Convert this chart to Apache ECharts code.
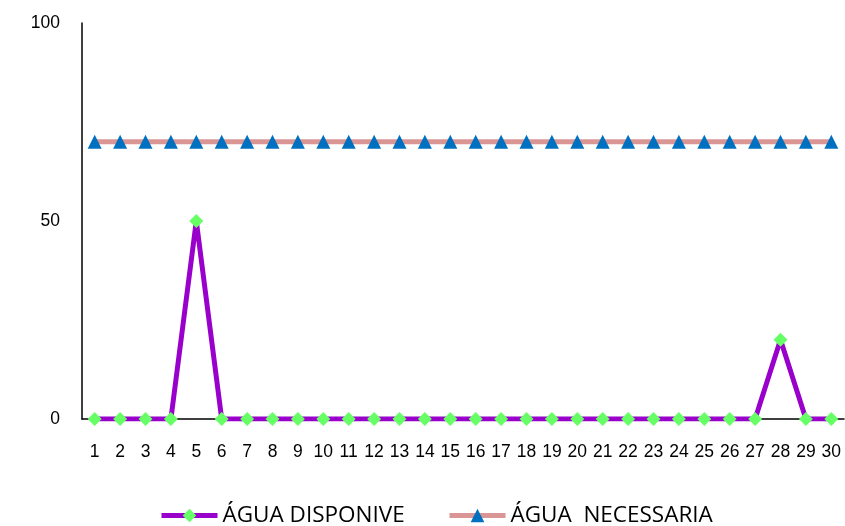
<!DOCTYPE html>
<html><head><meta charset="utf-8">
<script src="https://cdn.jsdelivr.net/npm/echarts@6/dist/echarts.min.js"></script>
<style>html,body{margin:0;padding:0;background:#fff}#c{width:845px;height:526px}</style>
</head><body><div id="c"></div>
<script>
const categories = ['1','2','3','4','5','6','7','8','9','10','11','12','13','14','15','16','17','18','19','20','21','22','23','24','25','26','27','28','29','30'];
const aguaDisponivel = [0,0,0,0,50,0,0,0,0,0,0,0,0,0,0,0,0,0,0,0,0,0,0,0,0,0,0,20,0,0];
const aguaNecessaria = [70,70,70,70,70,70,70,70,70,70,70,70,70,70,70,70,70,70,70,70,70,70,70,70,70,70,70,70,70,70];
const yTicks = [0,50,100];

const legendText = {fontSize:22.5,color:'#000',fontFamily:'Open Sans, sans-serif'};
const chart = echarts.init(document.getElementById('c'));
chart.setOption({
  animation:false,
  textStyle:{fontFamily:'Liberation Sans, Arial, sans-serif'},
  grid:{left:82,right:1,top:23,bottom:107,containLabel:false},
  legend:[
    {top:504,left:159,padding:0,itemWidth:56,itemHeight:17,textStyle:legendText,
      data:[{name:'ÁGUA DISPONIVE',lineStyle:{width:5,color:'#9900CC'}}]},
    {top:504,left:447,padding:0,itemWidth:56,itemHeight:17,textStyle:legendText,
      data:[{name:'ÁGUA  NECESSARIA',lineStyle:{width:5,color:'#D99694'}}]}
  ],
  xAxis:{type:'category',data:categories,boundaryGap:true,
    axisLine:{lineStyle:{color:'#000',width:1.5}},axisTick:{show:false},
    axisLabel:{color:'#000',fontSize:17.5,margin:24,interval:0,hideOverlap:false}},
  yAxis:{type:'value',min:0,max:100,interval:50,
    axisLine:{show:true,lineStyle:{color:'#000',width:1.5}},axisTick:{show:false},
    splitLine:{show:false},
    axisLabel:{color:'#000',fontSize:17.5,margin:22,formatter:v=>yTicks.includes(v)?String(v):''}},
  series:[
    {name:'ÁGUA DISPONIVE',type:'line',data:aguaDisponivel,z:3,
      lineStyle:{color:'#9900CC',width:5},itemStyle:{color:'#66FF66'},
      symbol:'diamond',symbolSize:14,showAllSymbol:true},
    {name:'ÁGUA  NECESSARIA',type:'line',data:aguaNecessaria,z:2,
      lineStyle:{color:'#D99694',width:5},itemStyle:{color:'#0070C0'},
      symbol:'triangle',symbolSize:14,showAllSymbol:true}
  ]
});
</script></body></html>
